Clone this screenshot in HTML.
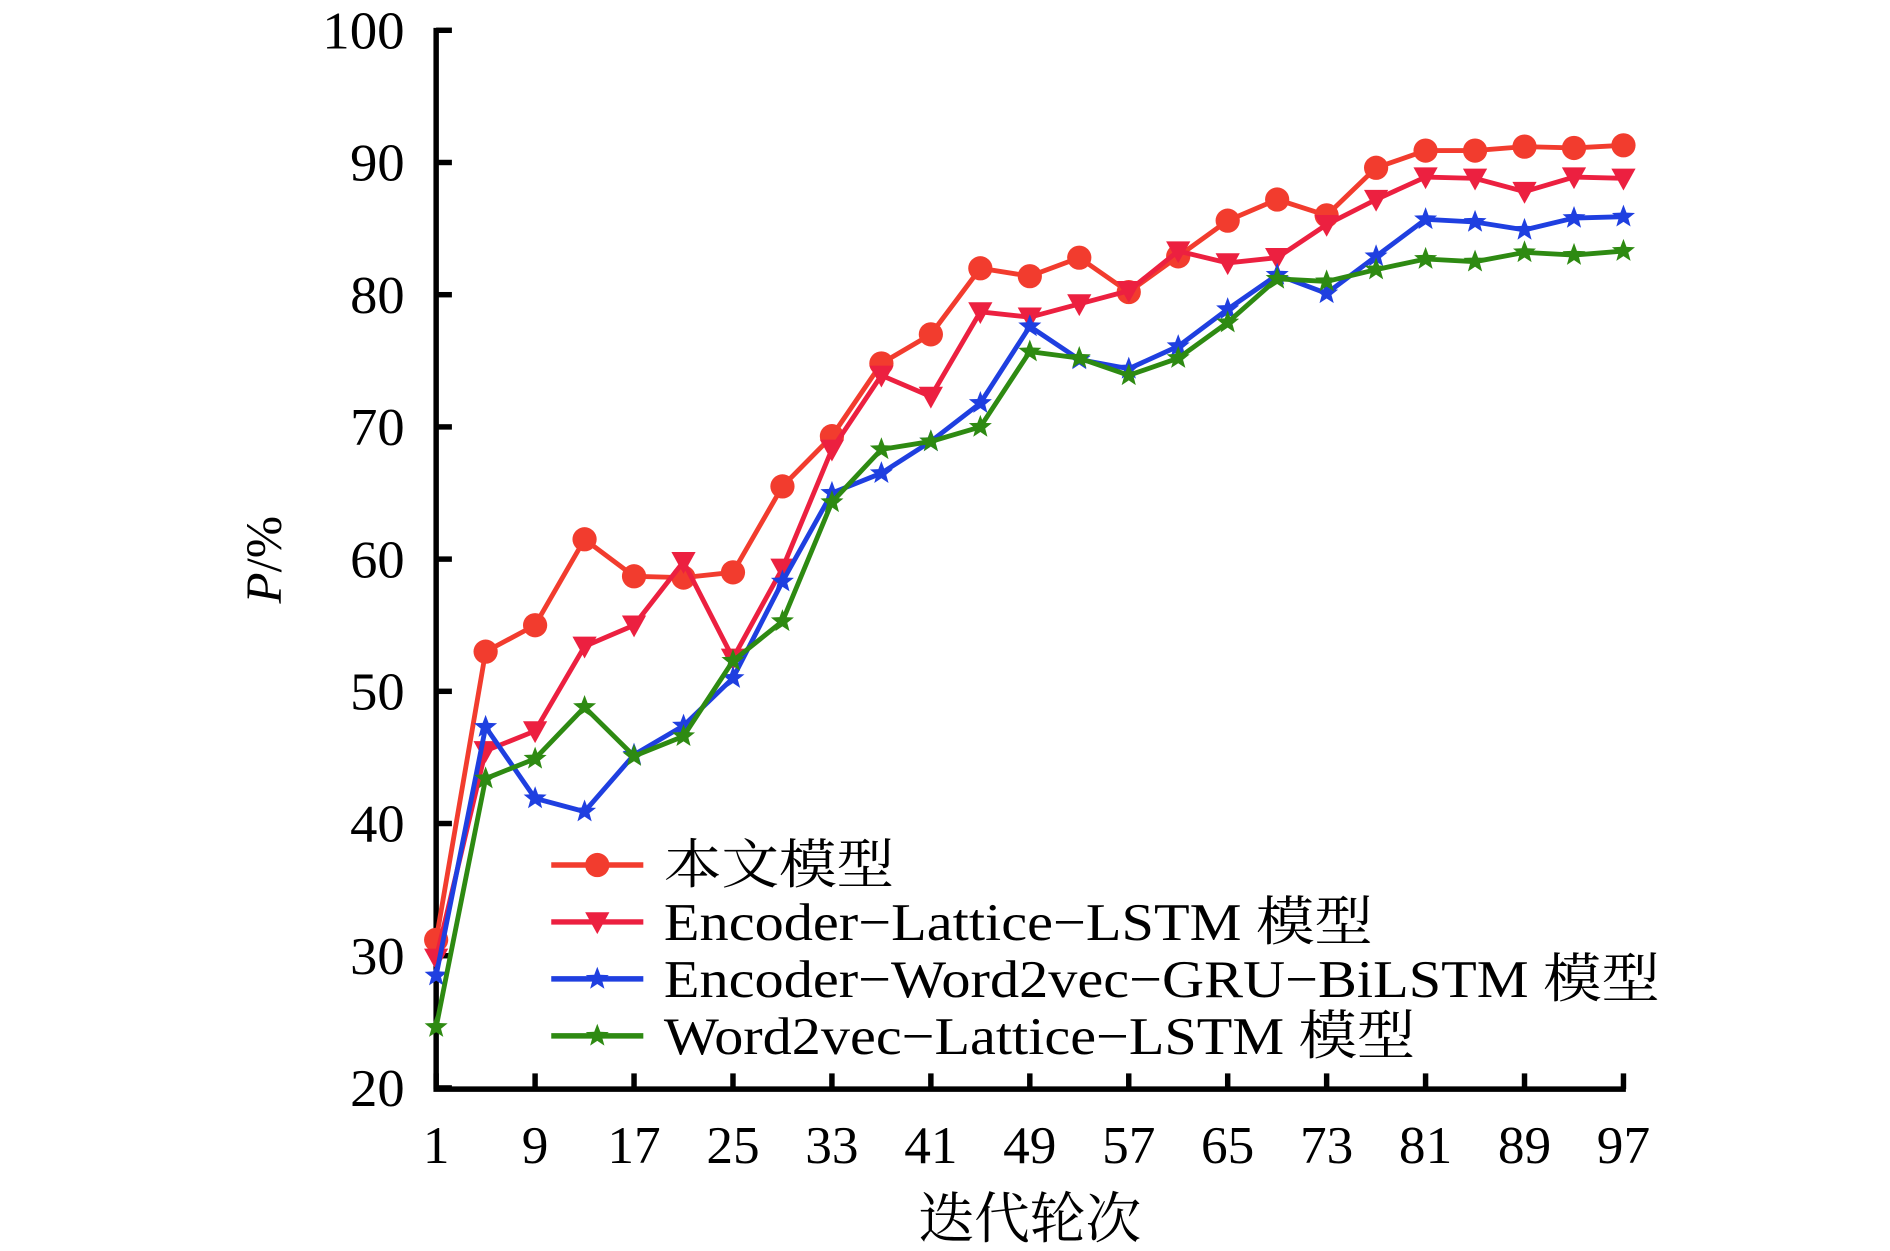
<!DOCTYPE html>
<html><head><meta charset="utf-8"><style>html,body{margin:0;padding:0;background:#fff}svg{display:block}</style></head>
<body>
<svg id="s" width="1890" height="1251" viewBox="0 0 1560 1032.6" preserveAspectRatio="none" xmlns="http://www.w3.org/2000/svg" font-family="'Liberation Serif','Noto Serif CJK SC',serif">
<g id="g"></g>
</svg>
<script>
const X0=360,X1=1340,Y20=898,Y100=25;
const px=i=>X0+(X1-X0)*i/24, py=v=>Y20-(v-20)*(Y20-Y100)/80;
const D=[
["#f23c2e","c",[31.2,53,55,61.5,58.7,58.6,59,65.5,69.3,74.8,77,82,81.4,82.8,80.2,82.9,85.6,87.2,86,89.6,90.9,90.9,91.2,91.1,91.3]],
["#ec2040","t",[29.8,45.5,47,53.4,55,59.8,52.5,59.3,68.3,73.9,72.3,78.7,78.3,79.3,80.3,83.3,82.4,82.8,85.3,87.2,88.9,88.8,87.8,88.9,88.8]],
["#1f3fe0","s",[28.5,47.3,41.9,40.9,45.2,47.4,51,58.3,65,66.5,68.9,71.8,77.6,75.1,74.4,76.1,78.9,81.5,80.1,82.9,85.7,85.5,84.9,85.8,85.9]],
["#2e8a12","s",[24.6,43.4,44.9,48.8,45.1,46.6,52.3,55.3,64.3,68.3,68.9,70,75.7,75.2,73.9,75.2,77.9,81.2,81,81.9,82.7,82.5,83.2,83,83.3]]];
function star(x,y,r){let p=[];for(let k=0;k<10;k++){let a=-Math.PI/2+k*Math.PI/5,rr=k%2?r*0.42:r;p.push((x+rr*Math.cos(a)).toFixed(1)+","+(y+rr*Math.sin(a)).toFixed(1));}return p.join(" ");}
function mk(t,c,x,y){if(t=="c")return `<circle cx="${x}" cy="${y}" r="10" fill="${c}"/>`;
if(t=="t")return `<polygon points="${x-10},${y-8} ${x+10},${y-8} ${x},${y+10}" fill="${c}"/>`;
return `<polygon points="${star(x,y,10)}" fill="${c}"/>`;}
let h="";
h+=`<path d="M360,23V899H1342" stroke="#000" stroke-width="4.5" fill="none"/>`;
for(let v=20;v<=100;v+=10){let y=py(v);h+=`<line x1="360" x2="373" y1="${y}" y2="${y}" stroke="#000" stroke-width="4.5"/><text x="334" y="${y+15}" font-size="44" text-anchor="end" textLength="${v==100?68:45}" lengthAdjust="spacingAndGlyphs">${v}</text>`;}
for(let i=0;i<=12;i++){let x=px(i*2);h+=`<line x1="${x}" x2="${x}" y1="899" y2="886" stroke="#000" stroke-width="4.5"/><text x="${x}" y="960" font-size="44" text-anchor="middle">${1+8*i}</text>`;}
h+=`<text x="850" y="1022" font-size="46" text-anchor="middle">迭代轮次</text>`;
h+=`<text transform="translate(232,462) rotate(-90)" font-size="42" text-anchor="middle"><tspan font-style="italic">P</tspan>/%</text>`;
for(const [c,t,d] of D){h+=`<polyline fill="none" stroke="${c}" stroke-width="4" points="${d.map((v,i)=>px(i)+","+py(v)).join(" ")}"/>`;d.forEach((v,i)=>h+=mk(t,c,px(i),py(v)));}
const L=["本文模型","Encoder\u2212Lattice\u2212LSTM 模型","Encoder\u2212Word2vec\u2212GRU\u2212BiLSTM 模型","Word2vec\u2212Lattice\u2212LSTM 模型"];
const W=[190,585,822,620];
L.forEach((s,k)=>{let y=714+47*k,[c,t]=D[k];h+=`<line x1="455" x2="531" y1="${y}" y2="${y}" stroke="${c}" stroke-width="4.5"/>`+mk(t,c,493,y)+`<text x="548" y="${y+15}" font-size="44" textLength="${W[k]}" lengthAdjust="spacingAndGlyphs">${s}</text>`;});
document.getElementById("g").innerHTML=h;
</script>
</body></html>
